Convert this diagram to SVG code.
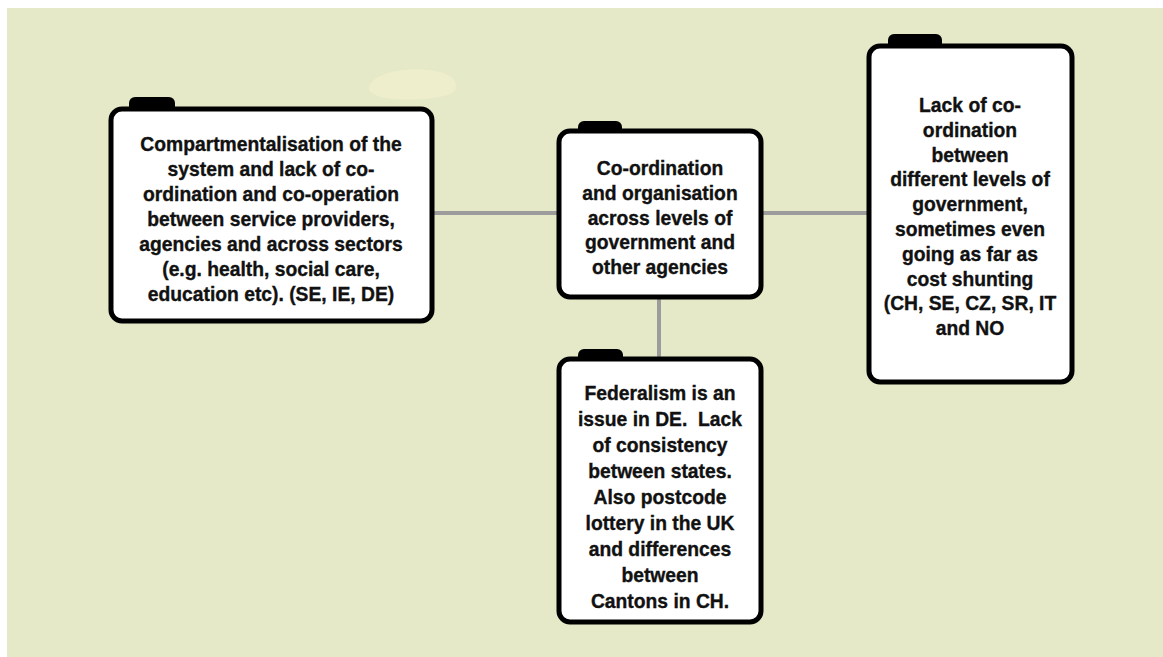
<svg xmlns="http://www.w3.org/2000/svg" width="1163" height="657" viewBox="0 0 1163 657">
<style>
.box{fill:#fff;stroke:#000;stroke-width:5}
.tab{fill:#000}
.conn{stroke:#9c9c9c;stroke-width:4;fill:none}
.t{font-family:"Liberation Sans",Arial,sans-serif;font-weight:bold;font-size:19.3px;fill:#111;stroke:#111;stroke-width:0.35;text-anchor:middle}
</style>
<rect x="0" y="0" width="1163" height="657" fill="#fff"/>
<rect x="7" y="8" width="1156" height="649" fill="#e5e9c7"/>
<path d="M372 82 C382 70 418 66 440 72 C458 77 462 90 448 95 C430 100 402 101 386 98 C370 95 365 89 372 82 Z" fill="#f1eecd" opacity="0.85"/>
<g id="connectors">
<line class="conn" x1="433" y1="213" x2="558" y2="213"/>
<line class="conn" x1="762" y1="213" x2="868" y2="213"/>
<line class="conn" x1="659" y1="298" x2="659" y2="358"/>
</g>
<g id="node-left">
<rect class="tab" x="129" y="97" width="46" height="18" rx="6"/>
<rect class="box" x="111" y="109" width="321" height="212" rx="11"/>
<text class="t" x="271" y="151">Compartmentalisation of the</text>
<text class="t" x="271" y="176">system and lack of co-</text>
<text class="t" x="271" y="201">ordination and co-operation</text>
<text class="t" x="271" y="226">between service providers,</text>
<text class="t" x="271" y="251">agencies and across sectors</text>
<text class="t" x="271" y="276">(e.g. health, social care,</text>
<text class="t" x="271" y="301">education etc). (SE, IE, DE)</text>
</g>
<g id="node-center">
<rect class="tab" x="578" y="121" width="44" height="18" rx="6"/>
<rect class="box" x="559" y="131" width="202" height="166" rx="11"/>
<text class="t" x="660" y="175">Co-ordination</text>
<text class="t" x="660" y="200">and organisation</text>
<text class="t" x="660" y="225">across levels of</text>
<text class="t" x="660" y="249">government and</text>
<text class="t" x="660" y="274">other agencies</text>
</g>
<g id="node-right">
<rect class="tab" x="888" y="34" width="54" height="18" rx="6"/>
<rect class="box" x="869" y="46" width="203" height="336" rx="11"/>
<text class="t" x="970" y="112">Lack of co-</text>
<text class="t" x="970" y="137">ordination</text>
<text class="t" x="970" y="162">between</text>
<text class="t" x="970" y="186">different levels of</text>
<text class="t" x="970" y="211">government,</text>
<text class="t" x="970" y="236">sometimes even</text>
<text class="t" x="970" y="261">going as far as</text>
<text class="t" x="970" y="286">cost shunting</text>
<text class="t" x="970" y="310">(CH, SE, CZ, SR, IT</text>
<text class="t" x="970" y="335">and NO</text>
</g>
<g id="node-bottom">
<rect class="tab" x="578" y="349" width="45" height="18" rx="6"/>
<rect class="box" x="559" y="359" width="202" height="263" rx="11"/>
<text class="t" x="660" y="400">Federalism is an</text>
<text class="t" x="660" y="426">issue in DE.&#160; Lack</text>
<text class="t" x="660" y="452">of consistency</text>
<text class="t" x="660" y="478">between states.</text>
<text class="t" x="660" y="504">Also postcode</text>
<text class="t" x="660" y="530">lottery in the UK</text>
<text class="t" x="660" y="556">and differences</text>
<text class="t" x="660" y="582">between</text>
<text class="t" x="660" y="608">Cantons in CH.</text>
</g>
</svg>
